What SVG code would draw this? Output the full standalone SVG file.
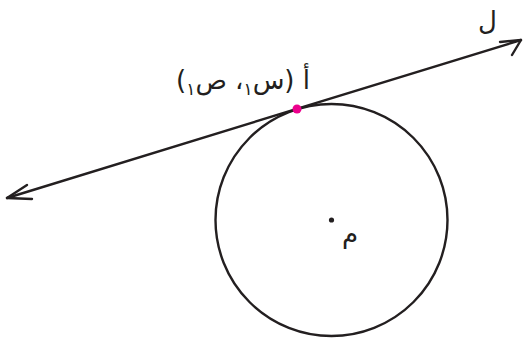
<svg xmlns="http://www.w3.org/2000/svg" width="523" height="338" viewBox="0 0 523 338">
<style>
.ln{fill:none;stroke:#231f20;stroke-width:2.4;stroke-linecap:round;stroke-linejoin:round}
.lbl{font-family:"DejaVu Sans",sans-serif;font-size:26px;fill:#231f20}
</style>
<rect width="523" height="338" fill="#fff"/>
<g id="circle">
<circle class="ln" cx="331.5" cy="220" r="116"/>
<circle cx="331.5" cy="220" r="2.6" fill="#231f20"/>
<text class="lbl" x="350" y="243" text-anchor="middle" direction="rtl">م</text>
</g>
<g id="connectors">
<line class="ln" x1="7" y1="198" x2="521" y2="40"/>
<polyline class="ln" points="27,185 7,198 32,199"/>
<polyline class="ln" points="500,42 521,40 512,55"/>
</g>
<g id="line-label">
<text class="lbl" x="497" y="30" direction="rtl" text-anchor="start">ل</text>
</g>
<g id="point-A">
<circle cx="297" cy="109" r="4.5" fill="#ec008c"/>
<text class="lbl" x="310" y="89" direction="rtl" text-anchor="start" letter-spacing="3">أ (س<tspan dy="6" font-size="17">١</tspan><tspan dy="-6">، ص</tspan><tspan dy="6" font-size="17">١</tspan><tspan dy="-6">)</tspan></text>
</g>
</svg>
